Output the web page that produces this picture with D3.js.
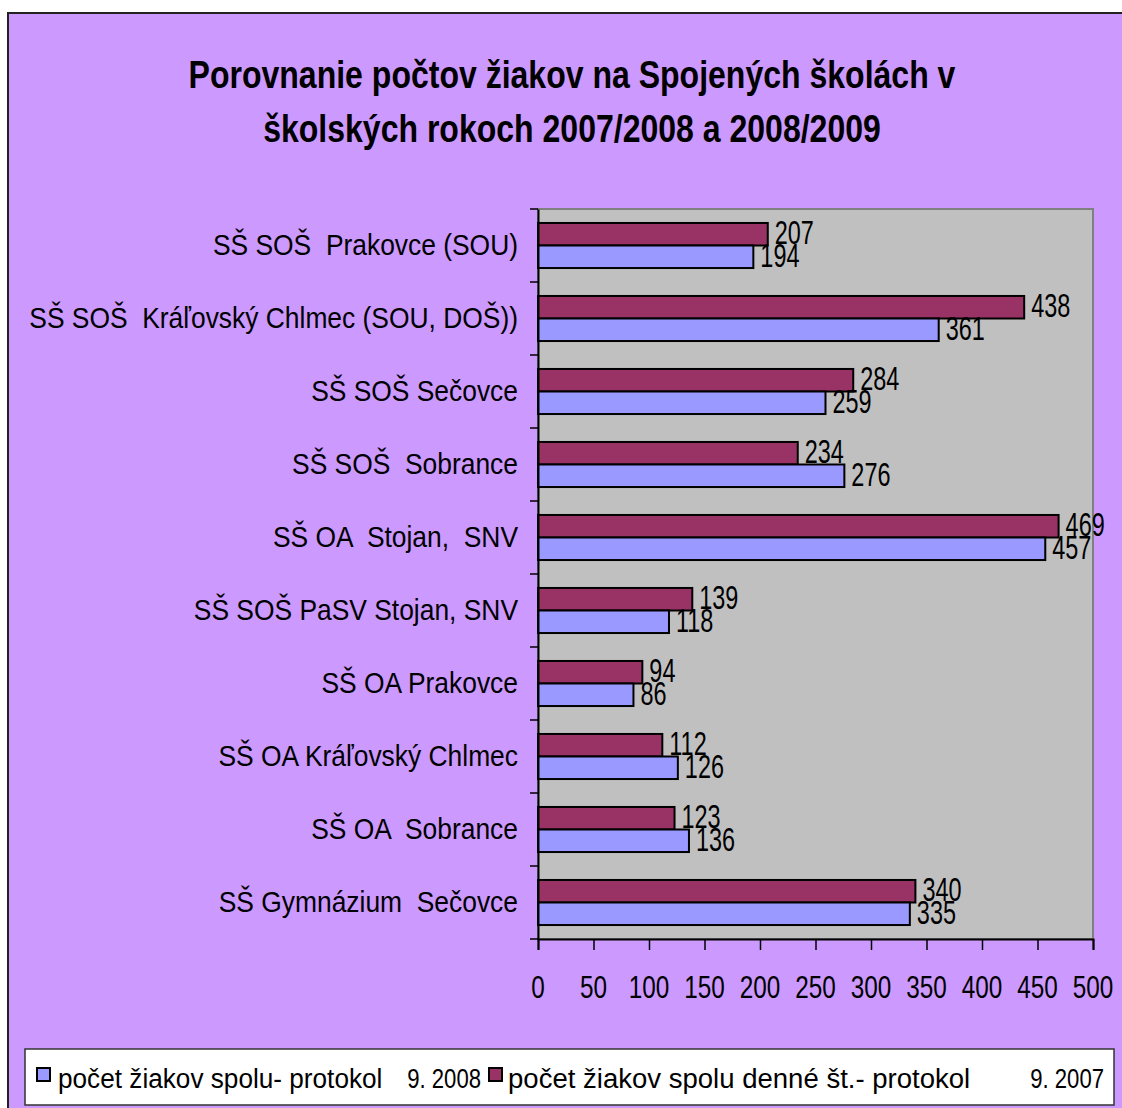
<!DOCTYPE html>
<html>
<head>
<meta charset="utf-8">
<script src="https://cdn.jsdelivr.net/npm/d3@7"></script>
<style>
  html, body { margin: 0; padding: 0; background: #ffffff; }
  svg { display: block; }
  text { font-family: "Liberation Sans", Arial, sans-serif; white-space: pre; }
</style>
</head>
<body>
<svg id="chart" width="1122" height="1108"></svg>
<script>
const titleLines = ["Porovnanie počtov žiakov na Spojených školách v", "školských rokoch 2007/2008 a 2008/2009"];
const categories = [
  "SŠ SOŠ  Prakovce (SOU)",
  "SŠ SOŠ  Kráľovský Chlmec (SOU, DOŠ))",
  "SŠ SOŠ Sečovce",
  "SŠ SOŠ  Sobrance",
  "SŠ OA  Stojan,  SNV",
  "SŠ SOŠ PaSV Stojan, SNV",
  "SŠ OA Prakovce",
  "SŠ OA Kráľovský Chlmec",
  "SŠ OA  Sobrance",
  "SŠ Gymnázium  Sečovce"
];
const seriesKeys = ["y2007", "y2008"];
const values2007 = [207, 438, 284, 234, 469, 139, 94, 112, 123, 340];
const values2008 = [194, 361, 259, 276, 457, 118, 86, 126, 136, 335];
const xTicks = [0, 50, 100, 150, 200, 250, 300, 350, 400, 450, 500];
const legendNames = ["počet žiakov spolu- protokol", "počet žiakov spolu denné št.- protokol"];
const legendDates = ["9. 2008", "9. 2007"];
const colors = { y2007: "#993366", y2008: "#9999FF" };

const svg = d3.select("#chart");
const W = 1122, H = 1108;
const plot = { left: 538, right: 1093, top: 209, bottom: 939 };

// outer chart area
svg.append("rect").attr("x", 8).attr("y", 13).attr("width", W + 10).attr("height", H + 10)
  .attr("fill", "#CC99FF").attr("stroke", "#222").attr("stroke-width", 2);

// title
titleLines.forEach((t, i) => {
  svg.append("text")
    .attr("transform", `translate(572,${88 + i * 54}) scale(0.843,1)`)
    .attr("text-anchor", "middle")
    .attr("font-size", 38).attr("font-weight", "bold").attr("fill", "#000")
    .text(t);
});

const x = d3.scaleLinear().domain([0, 500]).range([plot.left, plot.right]);
const y = d3.scaleBand().domain(categories).range([plot.top, plot.bottom]).padding(0);
const ySub = d3.scaleBand().domain(seriesKeys).range([0, y.bandwidth()]).paddingInner(0).paddingOuter(0.62);

// plot area
svg.append("rect").attr("x", plot.left).attr("y", plot.top)
  .attr("width", plot.right - plot.left).attr("height", plot.bottom - plot.top)
  .attr("fill", "#C0C0C0").attr("stroke", "#808080").attr("stroke-width", 2);

const rows = categories.map((c, i) => ({ cat: c, y2007: values2007[i], y2008: values2008[i] }));

const g = svg.append("g");
rows.forEach(r => {
  seriesKeys.forEach(k => {
    const by = y(r.cat) + ySub(k);
    g.append("rect")
      .attr("x", x(0)).attr("y", by)
      .attr("width", x(r[k]) - x(0)).attr("height", ySub.bandwidth())
      .attr("fill", colors[k]).attr("stroke", "#000").attr("stroke-width", 2);
  });
});
rows.forEach(r => {
  seriesKeys.forEach(k => {
    const cy = y(r.cat) + ySub(k) + ySub.bandwidth() / 2;
    g.append("text")
      .attr("transform", `translate(${x(r[k]) + 7},${cy + 10}) scale(0.69,1)`)
      .attr("font-size", 34).attr("fill", "#000")
      .text(r[k]);
  });
});

// y axis
const yAxis = d3.axisLeft(y).tickSize(0).tickFormat("");
const yg = svg.append("g").attr("transform", `translate(${plot.left},0)`).call(yAxis);
yg.select(".domain").attr("stroke", "#000").attr("stroke-width", 2);
const bounds = categories.map(c => y(c)).concat([plot.bottom]);
svg.append("g").selectAll("line").data(bounds).join("line")
  .attr("x1", plot.left - 8).attr("x2", plot.left).attr("y1", d => d).attr("y2", d => d)
  .attr("stroke", "#000").attr("stroke-width", 1.5);

// category labels
svg.append("g").selectAll("text").data(categories).join("text")
  .attr("transform", d => `translate(518,${y(d) + y.bandwidth() / 2 + 9}) scale(0.88,1)`)
  .attr("text-anchor", "end").attr("font-size", 30).attr("fill", "#000")
  .text(d => d);

// x axis
const xAxis = d3.axisBottom(x).tickValues(xTicks).tickSize(11).tickFormat("");
const xg = svg.append("g").attr("transform", `translate(0,${plot.bottom})`).call(xAxis);
xg.select(".domain").attr("stroke", "#000").attr("stroke-width", 2);
xg.selectAll(".tick line").attr("stroke", "#000").attr("stroke-width", 1.5);
svg.append("g").selectAll("text").data(xTicks).join("text")
  .attr("transform", d => `translate(${x(d)},998) scale(0.76,1)`)
  .attr("text-anchor", "middle").attr("font-size", 32).attr("fill", "#000")
  .text(d => d);

// legend
svg.append("rect").attr("x", 25).attr("y", 1049).attr("width", 1089).attr("height", 56)
  .attr("fill", "#fff").attr("stroke", "#333").attr("stroke-width", 1.5);
const legendItems = [
  { key: "y2008", name: legendNames[0], date: legendDates[0], mx: 37, tx: 58, dx: 481, sx: 0.97 },
  { key: "y2007", name: legendNames[1], date: legendDates[1], mx: 489, tx: 508, dx: 1104, sx: 1.02 }
];
legendItems.forEach(it => {
  svg.append("rect").attr("x", it.mx).attr("y", 1068).attr("width", 13).attr("height", 13)
    .attr("fill", colors[it.key]).attr("stroke", "#000").attr("stroke-width", 2);
  svg.append("text").attr("transform", `translate(${it.tx},1088) scale(${it.sx},1)`)
    .attr("font-size", 27).attr("fill", "#000").text(it.name);
  svg.append("text").attr("transform", `translate(${it.dx},1088) scale(0.82,1)`)
    .attr("text-anchor", "end")
    .attr("font-size", 27).attr("fill", "#000").text(it.date);
});
</script>
</body>
</html>
